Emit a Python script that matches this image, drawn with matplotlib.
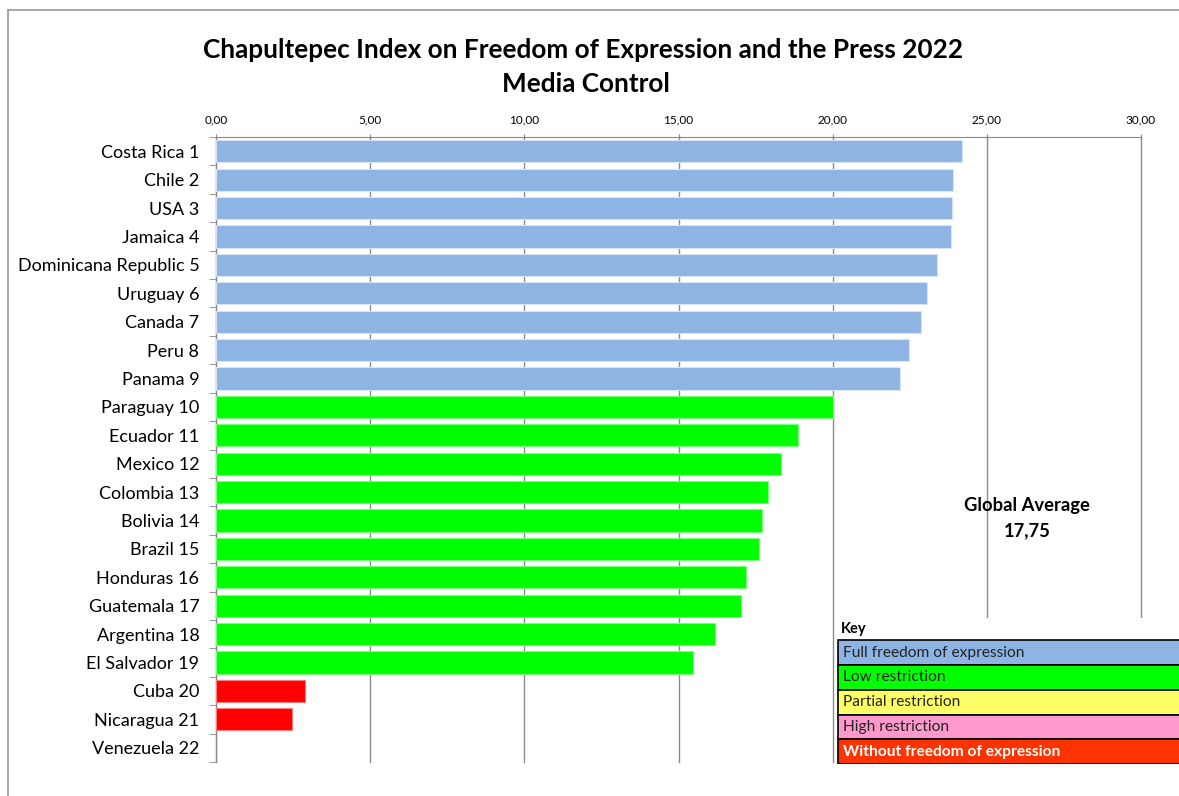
# Chapultepec Index 2022 - Media Control, horizontal bars
import numpy as np
import matplotlib.pyplot as plt
from matplotlib.lines import Line2D

countries = ['Costa Rica 1', 'Chile 2', 'USA 3', 'Jamaica 4', 'Dominicana Republic 5',
             'Uruguay 6', 'Canada 7', 'Peru 8', 'Panama 9', 'Paraguay 10', 'Ecuador 11',
             'Mexico 12', 'Colombia 13', 'Bolivia 14', 'Brazil 15', 'Honduras 16',
             'Guatemala 17', 'Argentina 18', 'El Salvador 19', 'Cuba 20', 'Nicaragua 21',
             'Venezuela 22']
scores = [24.19, 23.90, 23.87, 23.84, 23.38, 23.05, 22.88, 22.48, 22.18, 20.02, 18.87,
          18.32, 17.89, 17.70, 17.61, 17.18, 17.04, 16.19, 15.48, 2.90, 2.46, 0.0]
groups = ['full'] * 9 + ['low'] * 10 + ['none'] * 3

bar_colors = {'full': '#8EB4E3', 'low': '#00FF00', 'none': '#FF0000'}
edge_colors = {'full': '#D6E4F5', 'low': '#7CFF7C', 'none': '#FF7C7C'}

key_labels = ['Full freedom of expression', 'Low restriction', 'Partial restriction',
              'High restriction', 'Without freedom of expression']
key_colors = ['#8EB4E3', '#00FF00', '#FFFF66', '#FF99CC', '#FF3300']

global_avg = 17.75

plt.rcParams['font.family'] = ['Lato', 'DejaVu Sans']

W, H = 1179, 796
fig = plt.figure(figsize=(W / 100, H / 100), dpi=100)

ax = fig.add_axes([216 / W, 1 - 762 / H, (1141 - 216) / W, (762 - 137) / H])
ypos = np.arange(len(countries))
ax.barh(ypos, scores, height=0.78,
        color=[bar_colors[g] for g in groups],
        edgecolor=[edge_colors[g] for g in groups],
        linewidth=[0.8 if s > 0 else 0 for s in scores], zorder=3)

ax.set_xlim(0, 30)
ax.set_ylim(len(countries) - 0.5, -0.5)
ax.set_xticks(np.arange(0, 31, 5))
ax.set_xticklabels(['{:.2f}'.format(v).replace('.', ',') for v in np.arange(0, 31, 5)])
ax.xaxis.tick_top()
ax.tick_params(axis='x', labelsize=8.5, length=4, direction='inout', color='#888888', pad=6)
ax.grid(axis='x', color='#8C8C8C', linewidth=1, zorder=0)
for gl in ax.get_xgridlines():
    gl.set_clip_on(False)

ax.set_yticks(ypos)
ax.set_yticklabels(countries)
ax.set_yticks(np.arange(-0.5, len(countries)), minor=True)
ax.tick_params(axis='y', which='major', length=0, labelsize=13, pad=12)
ax.tick_params(axis='y', which='minor', length=5, color='#888888')

for s in ['right', 'bottom']:
    ax.spines[s].set_visible(False)
ax.spines['top'].set_color('#888888')
ax.spines['left'].set_color('#888888')

fig.text(583 / W, 1 - 50 / H, 'Chapultepec Index on Freedom of Expression and the Press 2022',
         ha='center', va='center', fontsize=18.8, fontweight='bold')
fig.text(586 / W, 1 - 84 / H, 'Media Control', ha='center', va='center',
         fontsize=18.8, fontweight='bold')

fig.text(1027 / W, 1 - 506 / H, 'Global Average', ha='center', va='center',
         fontsize=13.2, fontweight='bold')
fig.text(1027 / W, 1 - 531 / H, '{:.2f}'.format(global_avg).replace('.', ','),
         ha='center', va='center', fontsize=13.2, fontweight='bold')

# key box
kax = fig.add_axes([836 / W, 1 - 764 / H, (W - 836) / W + 0.01, (764 - 618) / H])
kax.set_xlim(0, 1)
kax.set_ylim(5.9, 0)
kax.axis('off')
kax.add_patch(plt.Rectangle((0, 0), 1, 5.9, facecolor='white', edgecolor='none'))
kax.text(0.015, 0.45, 'Key', ha='left', va='center', fontsize=10.5, fontweight='bold')
for i, (lab, col) in enumerate(zip(key_labels, key_colors)):
    kax.barh(i + 1.4, 1.2, left=0.005, height=1.0, color=col, edgecolor='black', linewidth=1.2)
    last = i == len(key_labels) - 1
    kax.text(0.02, i + 1.4, lab, ha='left', va='center', fontsize=11.2,
             color='white' if last else '#222222', fontweight='bold' if last else 'normal')

# chart area frame (top and left)
fig.add_artist(Line2D([8 / W, 1], [1 - 10 / H, 1 - 10 / H], color='#999999', linewidth=1.2))
fig.add_artist(Line2D([8 / W, 8 / W], [0, 1 - 10 / H], color='#999999', linewidth=1.2))

plt.savefig('out.png', dpi=100)
